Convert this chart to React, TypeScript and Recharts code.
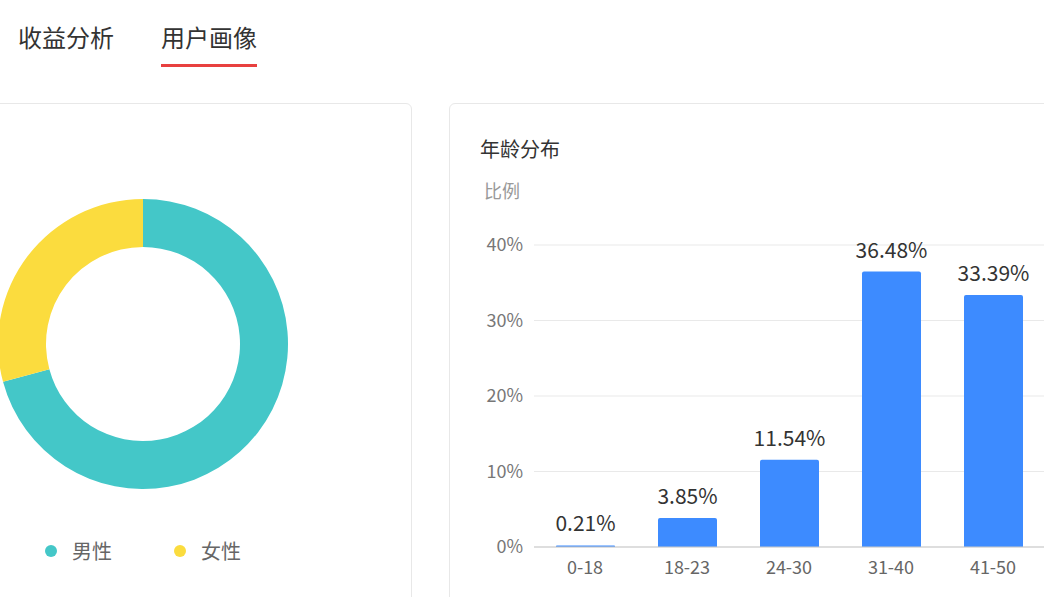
import React from "react";
import {
	Bar,
	BarChart,
	CartesianGrid,
	Cell,
	LabelList,
	Pie,
	PieChart,
	XAxis,
	YAxis,
} from "recharts";

const FONT = "'Noto Sans CJK SC', 'Noto Sans', sans-serif";

const tabs = ["收益分析", "用户画像"];

const genderNames = ["男性", "女性"];
const genderValues = [70.8, 29.2];
const genderColors = ["#44c7c8", "#fbdc3e"];

const ageGroups = ["0-18", "18-23", "24-30", "31-40", "41-50"];
const agePercents = [0.21, 3.85, 11.54, 36.48, 33.39];
const ageTicks = [0, 10, 20, 30, 40];

const genderData = genderNames.map((name, i) => ({
	name,
	value: genderValues[i],
}));
const ageData = ageGroups.map((name, i) => ({ name, value: agePercents[i] }));

const card: React.CSSProperties = {
	position: "absolute",
	top: 103,
	height: 600,
	border: "1px solid #e8e8e8",
	borderRadius: 6,
	background: "#fff",
	boxSizing: "border-box",
};

export default function App() {
	return (
		<div
			style={{
				position: "absolute",
				top: 0,
				left: 0,
				width: 1044,
				height: 597,
				overflow: "hidden",
				background: "#fff",
				fontFamily: FONT,
			}}
		>
			{/* tabs */}
			<div
				style={{
					position: "absolute",
					left: 18,
					top: 20,
					fontSize: 24,
					lineHeight: "34px",
					color: "#333",
				}}
			>
				{tabs[0]}
			</div>
			<div
				style={{
					position: "absolute",
					left: 161,
					top: 20,
					fontSize: 24,
					lineHeight: "34px",
					color: "#333",
				}}
			>
				{tabs[1]}
			</div>
			<div
				style={{
					position: "absolute",
					left: 161,
					top: 64,
					width: 96,
					height: 3,
					background: "#e8403f",
				}}
			/>

			{/* gender card */}
			<div style={{ ...card, left: -20, width: 432 }} />
			<div style={{ position: "absolute", left: -7, top: 194 }}>
				<PieChart
					width={300}
					height={300}
					margin={{ top: 0, right: 0, bottom: 0, left: 0 }}
				>
					<Pie
						data={genderData}
						dataKey="value"
						nameKey="name"
						cx={150}
						cy={150}
						innerRadius={97}
						outerRadius={145}
						startAngle={90}
						endAngle={-270}
						stroke="none"
						isAnimationActive={false}
					>
						{genderData.map((d, i) => (
							<Cell key={d.name} fill={genderColors[i]} />
						))}
					</Pie>
				</PieChart>
			</div>
			{genderData.map((d, i) => (
				<div
					key={d.name}
					style={{
						position: "absolute",
						left: 45 + i * 129,
						top: 537,
						display: "flex",
						alignItems: "center",
						fontSize: 20,
						lineHeight: "28px",
						color: "#666",
					}}
				>
					<span
						style={{
							width: 12,
							height: 12,
							borderRadius: 6,
							background: genderColors[i],
							marginRight: 15,
						}}
					/>
					{d.name}
				</div>
			))}

			{/* age card */}
			<div style={{ ...card, left: 449, width: 700 }} />
			<div
				style={{
					position: "absolute",
					left: 480,
					top: 135,
					fontSize: 20,
					lineHeight: "28px",
					color: "#333",
				}}
			>
				年龄分布
			</div>
			<div
				style={{
					position: "absolute",
					left: 484,
					top: 177,
					fontSize: 18,
					lineHeight: "26px",
					color: "#999",
				}}
			>
				比例
			</div>
			<div style={{ position: "absolute", left: 470, top: 215 }}>
				<BarChart
					width={574}
					height={380}
					data={ageData}
					margin={{ top: 30, right: 0, bottom: 0, left: 0 }}
				>
					<CartesianGrid vertical={false} stroke="#e9e9e9" />
					<XAxis
						dataKey="name"
						tickLine={false}
						axisLine={{ stroke: "#c8c8c8" }}
						tickMargin={8}
						height={48}
						tick={{ fill: "#666", fontSize: 18, fontFamily: FONT }}
					/>
					<YAxis
						domain={[0, 40]}
						ticks={ageTicks}
						tickFormatter={(v) => `${v}%`}
						axisLine={false}
						tickLine={false}
						tickMargin={5}
						width={64}
						tick={{ fill: "#777", fontSize: 18, fontFamily: FONT }}
					/>
					<Bar
						dataKey="value"
						fill="#3d8bff"
						barSize={59}
						radius={[2, 2, 0, 0]}
						isAnimationActive={false}
					>
						<LabelList
							dataKey="value"
							position="top"
							offset={14}
							formatter={(v: number) => `${v.toFixed(2)}%`}
							fill="#333"
							fontSize={21}
							fontFamily={FONT}
						/>
					</Bar>
				</BarChart>
			</div>
		</div>
	);
}
